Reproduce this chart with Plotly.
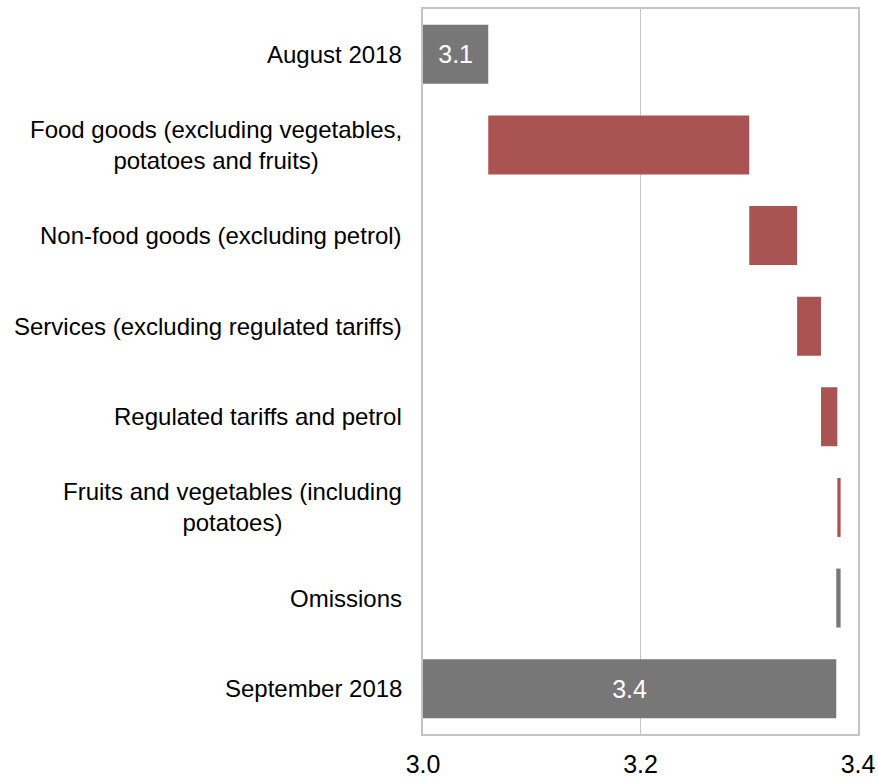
import plotly.graph_objects as go

categories = [
    "August 2018",
    "Food goods (excluding vegetables,<br>potatoes and fruits)",
    "Non-food goods (excluding petrol)",
    "Services (excluding regulated tariffs)",
    "Regulated tariffs and petrol",
    "Fruits and vegetables (including<br>potatoes)",
    "Omissions",
    "September 2018",
]
measures = ["absolute", "relative", "relative", "relative", "relative", "relative", "relative", "total"]
values = [3.06, 0.24, 0.044, 0.022, 0.015, 0.003, -0.004, 3.38]
value_labels = ["3.1", "", "", "", "", "", "", "3.4"]
kinds = ["total", "item", "item", "item", "item", "item", "omission", "total"]
x_ticks = [3.0, 3.2, 3.4]

GRAY = "#777777"
RED = "#A95452"
color_map = {"total": GRAY, "item": RED, "omission": GRAY}
FONT = "Liberation Sans, Arial"

# compute bases / lengths
bases, lengths = [], []
run = 0.0
for m, v in zip(measures, values):
    if m in ("absolute", "total"):
        bases.append(3.0)
        lengths.append(v - 3.0)
        run = v
    else:
        bases.append(run)
        lengths.append(v)
        run += v

ids = list(range(len(categories)))

fig = go.Figure()
fig.add_trace(go.Bar(
    y=ids, x=lengths, base=bases, orientation="h",
    marker=dict(color=[color_map[k] for k in kinds], line=dict(width=0)),
    width=0.65,
    text=value_labels, textposition="inside", insidetextanchor="middle",
    textfont=dict(color="white", size=25, family=FONT),
    hoverinfo="skip",
))

for i, c in enumerate(categories):
    fig.add_annotation(
        x=0, xref="paper", y=i, yref="y", text=c, showarrow=False,
        xanchor="right", yanchor="middle", align="center", xshift=-19,
        font=dict(size=24, color="black", family=FONT),
    )

fig.update_layout(
    width=878, height=778,
    margin=dict(l=423, r=20, t=9, b=44),
    paper_bgcolor="white", plot_bgcolor="white",
    showlegend=False,
    font=dict(family=FONT, color="black"),
)
fig.update_xaxes(
    range=[3.0, 3.4], tickvals=x_ticks, ticktext=[f"{t:.1f}" for t in x_ticks],
    showgrid=True, gridcolor="#c8c8c8", gridwidth=1,
    showline=True, linecolor="#c4c4c4", linewidth=2, mirror=True,
    ticks="", tickfont=dict(size=25), zeroline=False,
    ticklabelstandoff=7, automargin=False,
)
fig.update_yaxes(
    range=[7.5, -0.5], tickvals=[], showticklabels=False,
    showgrid=False, zeroline=False, automargin=False,
    showline=True, linecolor="#c4c4c4", linewidth=2, mirror=True,
)

fig.write_html(
    "out.html",
    config={"displayModeBar": False},
    post_script="document.body.style.margin='0';document.body.style.overflow='hidden';",
)
